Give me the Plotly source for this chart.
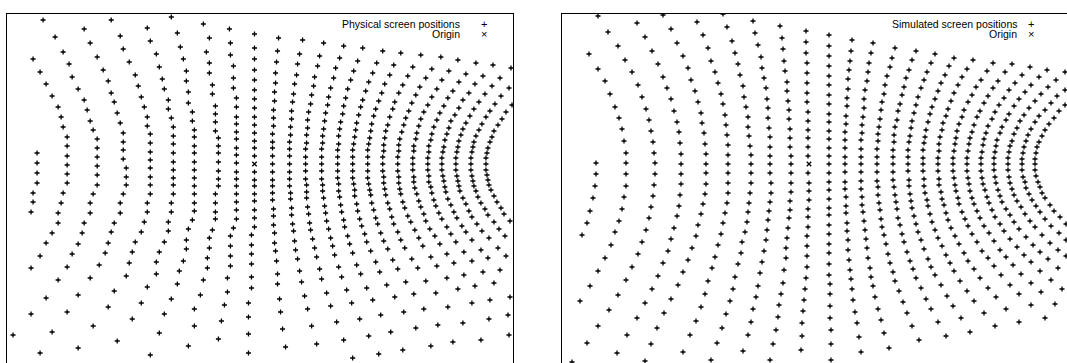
import plotly.graph_objects as go

# Screen point positions relative to the origin (x right, y up), one line per grid column,
# listed from the left-most column to the right-most, top to bottom.
phys_x = [
    -217, -217, -217, -217, -221, -221, -223,
    -221, -214, -208, -202, -196, -193, -191, -187, -187, -187, -187, -187, -187, -191, -193, -196, -196, -202, -208, -214, -223,
    -211, -199, -191, -185, -182, -176, -170, -167, -164, -161, -157, -157, -157, -157, -157, -157, -161, -164, -164, -170, -172, -176, -182, -187, -196, -208, -223, -241,
    -170, -164, -157, -151, -146, -143, -140, -137, -134, -131, -131, -131, -131, -128, -128, -128, -131, -134, -134, -140, -143, -146, -149, -155, -164, -176, -187, -202, -214,
    -143, -134, -131, -125, -119, -116, -113, -110, -107, -107, -104, -104, -104, -104, -104, -104, -104, -104, -107, -107, -110, -113, -119, -122, -125, -128, -140, -146, -161, -176,
    -107, -104, -98, -95, -92, -90, -86, -86, -83, -81, -81, -81, -81, -81, -81, -81, -81, -81, -83, -83, -86, -86, -90, -95, -98, -98, -107, -113, -122, -137,
    -83, -77, -74, -71, -68, -68, -66, -66, -62, -62, -60, -60, -60, -60, -60, -60, -60, -60, -60, -60, -60, -62, -66, -68, -68, -71, -75, -77, -83, -90, -95, -104,
    -51, -45, -48, -45, -45, -42, -42, -39, -39, -39, -39, -36, -36, -36, -36, -36, -36, -36, -39, -39, -39, -39, -42, -45, -45, -47, -47, -51, -54, -60, -60, -66,
    -25, -24, -24, -21, -21, -21, -18, -18, -18, -18, -18, -18, -18, -18, -18, -18, -18, -18, -18, -18, -18, -18, -21, -24, -24, -24, -24, -27, -27, -30, -33, -36,
    0, 0, 0, 0, 0, 0, 0, 0, 0, 0, 0, 0, 0, 0, 0, 0, 0, 0, 0, 0, 0, 0, -3, -3, -3, -3, -3, -3, -6, -6, -6, -6,
    24, 23, 22, 21, 21, 20, 20, 19, 19, 19, 18, 18, 18, 18, 18, 18, 18, 18, 18, 18, 19, 19, 19, 20, 20, 21, 22, 23, 23, 25, 26, 28, 31,
    48, 45, 43, 42, 40, 39, 38, 37, 37, 36, 36, 35, 35, 35, 35, 35, 35, 35, 36, 36, 37, 37, 38, 39, 40, 41, 43, 45, 47, 50, 53, 57, 62,
    69, 65, 63, 60, 59, 57, 56, 54, 53, 53, 52, 52, 51, 51, 51, 51, 51, 52, 52, 52, 53, 54, 55, 56, 58, 60, 62, 65, 67, 72, 76, 82, 89, 98,
    89, 85, 81, 79, 76, 74, 73, 71, 70, 69, 68, 68, 67, 67, 67, 67, 67, 68, 68, 69, 70, 71, 72, 74, 76, 78, 80, 84, 87, 92, 97, 105, 114, 124,
    108, 103, 99, 96, 93, 91, 89, 88, 86, 85, 84, 84, 83, 83, 83, 83, 83, 84, 84, 85, 86, 87, 89, 90, 93, 95, 98, 102, 106, 112, 118, 126, 136, 148,
    128, 122, 118, 114, 111, 108, 106, 104, 102, 101, 100, 99, 98, 98, 98, 98, 98, 99, 100, 100, 102, 103, 105, 107, 110, 112, 116, 121, 125, 132, 140, 149, 161, 176,
    146, 139, 135, 130, 127, 124, 121, 119, 117, 116, 115, 114, 113, 113, 113, 113, 113, 114, 115, 116, 117, 119, 121, 123, 126, 129, 133, 138, 143, 151, 159, 169, 183, 198,
    166, 158, 153, 148, 144, 140, 138, 135, 133, 131, 130, 129, 129, 128, 128, 128, 129, 129, 130, 131, 133, 135, 137, 139, 143, 146, 150, 157, 163, 171, 181, 193, 208, 226,
    186, 177, 171, 165, 161, 157, 154, 151, 149, 147, 145, 144, 144, 143, 143, 143, 144, 144, 145, 146, 148, 150, 153, 156, 160, 164, 168, 176, 182, 192, 203, 217, 234, 254,
    203, 194, 187, 182, 177, 173, 169, 166, 164, 162, 161, 159, 159, 158, 158, 158, 159, 159, 160, 162, 164, 166, 169, 171, 175, 180, 185, 192, 199, 209, 220, 235, 253,
    221, 211, 204, 198, 193, 189, 185, 182, 179, 177, 176, 174, 174, 173, 173, 173, 174, 174, 176, 177, 179, 181, 184, 187, 192, 196, 201, 209, 217, 228, 239, 255,
    238, 228, 220, 214, 208, 204, 200, 196, 194, 192, 190, 189, 188, 187, 187, 187, 188, 189, 190, 191, 193, 196, 199, 202, 207, 211, 217, 226, 233, 245,
    256, 245, 237, 230, 224, 219, 215, 211, 208, 206, 204, 203, 202, 201, 201, 201, 202, 203, 204, 205, 208, 211, 214, 217, 222, 227, 234, 243, 251,
    254, 246, 240, 235, 231, 227, 224, 221, 219, 218, 217, 216, 216, 216, 217, 218, 219, 221, 223, 226, 230, 233, 239, 244, 250,
    257, 251, 247, 243, 239, 237, 235, 233, 232, 231, 231, 231, 232, 233, 234, 236, 239, 242, 246, 249, 255,
]
phys_y = [
    11, 1, -9, -19, -29, -38, -48,
    105, 92, 80, 68, 57, 47, 37, 27, 18, 8, -1, -10, -19, -29, -39, -49, -59, -69, -79, -92, -104,
    144, 127, 112, 100, 87, 75, 64, 54, 43, 34, 25, 16, 7, -2, -11, -21, -30, -39, -49, -59, -69, -80, -90, -103, -116, -134, -150, -171,
    135, 121, 107, 94, 83, 71, 62, 51, 41, 31, 22, 14, 5, -4, -13, -21, -30, -39, -49, -59, -68, -79, -89, -101, -114, -131, -148, -168, -189,
    144, 128, 115, 102, 89, 78, 67, 57, 47, 38, 30, 21, 12, 4, -4, -13, -21, -30, -39, -48, -58, -68, -78, -88, -99, -112, -127, -143, -162, -184,
    136, 123, 110, 97, 85, 75, 64, 55, 46, 37, 28, 20, 11, 2, -6, -14, -21, -30, -39, -48, -58, -67, -78, -88, -98, -110, -123, -139, -155, -177,
    147, 131, 117, 105, 93, 83, 72, 61, 52, 43, 34, 27, 18, 11, 2, -6, -14, -22, -30, -39, -47, -56, -65, -76, -85, -97, -107, -120, -135, -150, -169, -191,
    140, 126, 112, 101, 91, 79, 70, 58, 50, 42, 33, 26, 18, 11, 2, -7, -15, -22, -30, -39, -48, -55, -66, -74, -84, -94, -104, -116, -131, -145, -162, -182,
    135, 121, 109, 98, 86, 76, 66, 57, 47, 40, 32, 25, 16, 9, 1, -8, -15, -22, -30, -38, -46, -55, -64, -72, -82, -92, -102, -114, -128, -141, -157, -175,
    130, 116, 105, 94, 84, 74, 65, 56, 47, 39, 31, 23, 16, 8, -8, -16, -22, -30, -37, -46, -54, -63, -71, -81, -90, -100, -113, -124, -139, -153, -170, -189,
    126, 113, 102, 91, 81, 72, 63, 54, 46, 38, 30, 22, 16, 8, 0, -8, -16, -22, -29, -36, -45, -52, -61, -69, -79, -87, -97, -110, -120, -135, -148, -165, -183,
    124, 110, 100, 89, 80, 70, 62, 53, 45, 37, 29, 22, 15, 8, 0, -8, -15, -22, -29, -35, -44, -51, -60, -67, -77, -86, -95, -107, -118, -132, -145, -162, -180,
    121, 108, 98, 87, 78, 69, 60, 52, 44, 36, 29, 21, 15, 7, 0, -7, -15, -21, -28, -34, -43, -50, -59, -66, -75, -84, -93, -105, -115, -129, -142, -158, -176, -194,
    118, 106, 96, 86, 76, 67, 59, 51, 43, 35, 28, 21, 15, 7, 0, -7, -15, -21, -27, -34, -42, -49, -57, -65, -74, -82, -91, -103, -113, -126, -139, -155, -172, -190,
    116, 103, 93, 84, 75, 66, 58, 50, 42, 35, 28, 20, 14, 7, 0, -7, -14, -20, -27, -33, -41, -48, -56, -63, -72, -80, -89, -101, -110, -124, -136, -151, -168, -186,
    113, 101, 91, 82, 73, 64, 57, 49, 41, 34, 27, 20, 14, 7, 0, -7, -14, -20, -26, -32, -40, -47, -55, -62, -70, -78, -87, -98, -108, -121, -133, -148, -164, -182,
    111, 99, 89, 80, 71, 63, 55, 48, 40, 33, 26, 20, 14, 7, 0, -7, -14, -20, -26, -31, -39, -46, -54, -60, -69, -77, -85, -96, -105, -118, -130, -145, -161, -178,
    109, 97, 88, 79, 71, 62, 55, 47, 39, 33, 26, 19, 13, 7, 0, -7, -13, -19, -25, -31, -39, -45, -53, -60, -68, -76, -84, -95, -104, -117, -129, -143, -159, -176,
    107, 95, 86, 77, 69, 61, 53, 46, 39, 32, 25, 19, 13, 7, 0, -7, -13, -19, -25, -30, -38, -44, -52, -58, -66, -74, -82, -93, -102, -114, -125, -139, -155, -171,
    104, 93, 84, 75, 67, 59, 52, 45, 38, 31, 25, 18, 13, 6, 0, -6, -13, -18, -24, -30, -37, -43, -50, -57, -65, -72, -80, -90, -99, -111, -122, -136, -151,
    101, 90, 82, 73, 66, 58, 51, 44, 37, 30, 24, 18, 12, 6, 0, -6, -12, -18, -23, -29, -36, -42, -49, -55, -63, -70, -78, -88, -97, -108, -119, -133,
    99, 88, 80, 71, 64, 56, 49, 43, 36, 30, 24, 17, 12, 6, 0, -6, -12, -17, -23, -28, -35, -41, -48, -54, -62, -68, -76, -86, -94, -106,
    96, 86, 78, 70, 62, 55, 48, 41, 35, 29, 23, 17, 12, 6, 0, -6, -12, -17, -22, -27, -34, -40, -47, -53, -60, -67, -74, -84, -92,
    76, 68, 60, 53, 47, 40, 34, 28, 22, 17, 12, 6, 0, -6, -12, -17, -22, -27, -33, -39, -45, -51, -58, -65, -72,
    59, 52, 45, 39, 33, 27, 22, 16, 11, 6, 0, -6, -11, -16, -21, -26, -32, -38, -44, -50, -57,
]

sim_x = [
    -213, -213, -214, -216, -219, -222, -227,
    -220, -211, -204, -199, -194, -190, -187, -185, -183, -183, -183, -183, -185, -187, -190, -194, -198, -204, -211, -219, -229,
    -211, -201, -191, -184, -177, -171, -167, -163, -160, -158, -156, -155, -154, -154, -155, -156, -158, -160, -163, -167, -171, -177, -183, -191, -200, -211, -222, -237,
    -172, -164, -157, -151, -146, -142, -138, -135, -132, -130, -129, -128, -128, -128, -128, -129, -130, -132, -135, -138, -141, -146, -151, -157, -164, -172, -182, -192,
    -146, -138, -132, -126, -121, -118, -114, -111, -108, -107, -105, -104, -103, -103, -103, -103, -104, -106, -108, -111, -113, -117, -121, -126, -131, -138, -145, -152, -158, -164,
    -112, -106, -101, -98, -94, -91, -88, -86, -84, -83, -82, -81, -81, -81, -81, -81, -81, -82, -84, -86, -88, -91, -94, -97, -101, -104, -108, -113, -119, -126,
    -86, -82, -77, -74, -71, -69, -66, -65, -63, -61, -61, -60, -59, -58, -58, -58, -58, -59, -60, -61, -62, -64, -67, -68, -71, -74, -76, -79, -83, -87, -92, -98,
    -56, -54, -51, -48, -47, -45, -43, -42, -41, -41, -40, -39, -39, -39, -39, -39, -38, -38, -39, -40, -41, -42, -43, -45, -47, -49, -51, -53, -56, -58, -61, -66,
    -29, -27, -26, -25, -24, -22, -22, -21, -20, -20, -19, -19, -19, -18, -18, -18, -18, -18, -19, -19, -20, -21, -22, -23, -23, -25, -26, -28, -30, -31, -33, -36, -39,
    -3, -3, -3, -2, -2, -2, -2, -2, -1, -1, -1, -1, -1, -1, -1, 0, 0, 0, -1, -1, -1, -2, -2, -2, -2, -3, -4, -5, -6, -7, -7, -8,
    20, 20, 20, 20, 20, 20, 20, 20, 20, 20, 20, 20, 20, 20, 20, 20, 20, 20, 20, 20, 20, 20, 20, 20, 20, 20, 20, 21, 21, 21, 21, 22, 22, 22,
    43, 42, 41, 40, 39, 39, 38, 38, 37, 37, 36, 36, 36, 36, 36, 36, 36, 36, 37, 37, 37, 38, 38, 39, 39, 40, 41, 42, 43, 44, 46, 48, 50, 52,
    64, 62, 60, 59, 58, 56, 55, 55, 54, 53, 53, 52, 52, 52, 52, 52, 52, 52, 53, 53, 54, 55, 56, 57, 58, 59, 61, 62, 64, 66, 69, 72, 75, 80,
    86, 83, 81, 78, 76, 75, 73, 72, 71, 70, 69, 69, 68, 68, 68, 68, 68, 69, 69, 70, 71, 72, 73, 75, 77, 79, 81, 84, 86, 90, 94, 98, 103, 110,
    107, 103, 100, 97, 95, 93, 91, 89, 88, 86, 85, 85, 84, 84, 84, 84, 84, 85, 86, 87, 88, 89, 91, 93, 95, 98, 101, 104, 107, 112, 117, 122, 129, 137,
    126, 122, 118, 115, 112, 109, 107, 105, 103, 102, 101, 100, 99, 99, 99, 99, 100, 100, 101, 102, 103, 105, 107, 109, 112, 115, 119, 122, 126, 132, 138, 144, 152, 161,
    145, 140, 136, 132, 129, 126, 123, 121, 119, 117, 116, 115, 114, 114, 114, 114, 115, 115, 116, 118, 119, 121, 123, 126, 129, 133, 137, 141, 145, 151, 158, 165, 175, 186,
    164, 158, 153, 149, 145, 142, 139, 137, 134, 133, 131, 130, 130, 129, 129, 129, 130, 130, 132, 133, 135, 137, 139, 142, 146, 150, 155, 159, 165, 171, 179, 187, 197, 210,
    184, 178, 172, 167, 163, 159, 155, 153, 150, 148, 147, 146, 145, 144, 144, 144, 145, 146, 147, 149, 150, 153, 156, 159, 163, 168, 173, 179, 185, 192, 201, 210, 222, 236,
    203, 196, 189, 184, 179, 175, 171, 168, 165, 163, 161, 160, 159, 158, 158, 158, 159, 160, 161, 163, 165, 168, 171, 175, 180, 185, 191, 197, 204, 212, 222, 232, 246,
    221, 213, 206, 200, 195, 190, 186, 183, 179, 177, 175, 174, 173, 172, 172, 172, 173, 174, 176, 178, 180, 183, 186, 191, 195, 201, 208, 215, 222, 231, 242, 253,
    238, 230, 222, 216, 210, 205, 200, 197, 193, 191, 188, 187, 186, 185, 185, 185, 186, 187, 189, 191, 193, 197, 201, 205, 210, 217, 224, 231, 239, 249,
    256, 247, 239, 232, 226, 220, 215, 211, 208, 205, 203, 201, 200, 199, 199, 199, 200, 201, 203, 205, 208, 212, 216, 221, 226, 233, 241, 249, 257,
    256, 248, 242, 236, 230, 226, 222, 219, 217, 215, 214, 213, 213, 213, 214, 216, 217, 220, 223, 227, 231, 236, 242, 250, 257,
    256, 250, 245, 240, 236, 233, 230, 228, 227, 226, 226, 226, 227, 229, 231, 233, 236, 241, 245, 251, 257,
]
sim_y = [
    1, -10, -22, -34, -47, -59, -71,
    110, 95, 83, 70, 57, 46, 35, 23, 11, 1, -10, -22, -33, -45, -57, -68, -81, -94, -107, -122, -137,
    148, 132, 118, 104, 92, 79, 67, 55, 44, 33, 22, 11, 1, -10, -21, -32, -43, -54, -66, -78, -90, -103, -116, -131, -146, -162, -179, -198,
    141, 127, 113, 100, 87, 76, 65, 53, 42, 32, 21, 10, 0, -10, -20, -31, -42, -52, -64, -75, -87, -99, -112, -125, -139, -154, -171, -189,
    149, 135, 121, 108, 96, 84, 73, 62, 51, 41, 31, 20, 10, 0, -9, -20, -30, -40, -50, -61, -72, -84, -96, -108, -121, -135, -149, -164, -180, -197,
    142, 129, 116, 103, 92, 81, 70, 60, 49, 39, 29, 19, 9, 0, -9, -19, -29, -39, -49, -59, -70, -81, -93, -104, -117, -130, -143, -157, -171, -188,
    150, 137, 123, 111, 100, 89, 78, 67, 57, 47, 37, 28, 18, 9, 0, -9, -19, -29, -39, -48, -58, -68, -78, -89, -100, -113, -125, -137, -150, -164, -179, -196,
    143, 131, 119, 107, 96, 86, 76, 65, 56, 46, 36, 27, 17, 8, 0, -9, -19, -29, -38, -47, -56, -66, -76, -87, -98, -109, -122, -133, -145, -158, -171, -187,
    138, 126, 115, 103, 93, 82, 73, 63, 54, 45, 35, 26, 17, 8, 0, -9, -19, -28, -37, -46, -54, -64, -74, -84, -94, -106, -119, -130, -141, -153, -166, -180, -196,
    133, 122, 111, 101, 91, 81, 71, 62, 52, 43, 34, 26, 17, 8, -9, -19, -27, -36, -45, -53, -63, -72, -82, -92, -103, -114, -125, -136, -147, -159, -172, -186,
    129, 118, 108, 98, 88, 79, 69, 60, 50, 42, 33, 25, 16, 8, 0, -9, -18, -26, -35, -44, -51, -61, -70, -80, -89, -100, -111, -120, -130, -142, -154, -166, -180, -196,
    124, 113, 103, 94, 85, 75, 66, 58, 48, 40, 32, 24, 16, 7, 0, -8, -18, -25, -33, -42, -49, -59, -67, -76, -86, -96, -106, -115, -125, -136, -148, -159, -173, -188,
    121, 111, 101, 92, 83, 74, 65, 56, 47, 39, 31, 24, 15, 7, 0, -8, -17, -25, -33, -41, -48, -57, -66, -75, -84, -94, -104, -113, -122, -133, -145, -156, -169, -184,
    116, 106, 97, 88, 79, 70, 62, 54, 45, 37, 30, 23, 15, 7, 0, -8, -17, -23, -31, -39, -46, -55, -63, -71, -80, -90, -99, -108, -117, -127, -138, -149, -162, -176,
    113, 104, 94, 86, 77, 69, 60, 53, 44, 37, 29, 22, 14, 7, 0, -8, -16, -23, -31, -38, -45, -54, -61, -70, -78, -88, -97, -105, -114, -124, -135, -145, -158, -172,
    110, 101, 92, 84, 76, 67, 59, 51, 43, 36, 28, 22, 14, 7, 0, -7, -16, -22, -30, -37, -44, -52, -60, -68, -76, -85, -95, -103, -111, -121, -132, -142, -154, -168,
    106, 98, 89, 81, 73, 65, 57, 50, 42, 34, 27, 21, 14, 6, 0, -7, -15, -22, -29, -36, -42, -50, -58, -66, -74, -82, -91, -99, -107, -117, -127, -137, -149, -162,
    104, 95, 87, 79, 71, 63, 55, 48, 41, 34, 27, 20, 13, 6, 0, -7, -15, -21, -28, -35, -41, -49, -56, -64, -72, -80, -89, -97, -105, -114, -124, -133, -145, -158,
    101, 93, 84, 77, 69, 62, 54, 47, 40, 33, 26, 20, 13, 6, 0, -7, -14, -21, -27, -34, -40, -48, -55, -62, -70, -78, -87, -94, -102, -111, -121, -130, -141, -154,
    100, 92, 83, 76, 68, 61, 53, 47, 39, 32, 26, 20, 13, 6, 0, -7, -14, -20, -27, -34, -40, -47, -54, -62, -69, -77, -86, -93, -101, -110, -119, -128, -140,
    97, 89, 81, 74, 66, 59, 52, 45, 38, 31, 25, 19, 12, 6, 0, -7, -14, -20, -26, -33, -39, -46, -53, -60, -67, -75, -83, -91, -98, -107, -116, -125,
    94, 87, 79, 72, 65, 58, 50, 44, 37, 31, 24, 18, 12, 6, 0, -6, -13, -19, -26, -32, -38, -45, -51, -58, -65, -73, -81, -88, -95, -104,
    92, 84, 77, 70, 63, 56, 49, 43, 36, 30, 23, 18, 12, 6, 0, -6, -13, -19, -25, -31, -37, -43, -50, -57, -63, -71, -79, -86, -92,
    74, 68, 61, 54, 48, 42, 35, 29, 23, 17, 11, 5, 0, -6, -13, -18, -24, -30, -36, -42, -48, -55, -62, -69, -76,
    59, 53, 46, 40, 34, 28, 22, 17, 11, 5, 0, -6, -12, -18, -23, -29, -34, -41, -47, -53, -60,
]

origin_x = [0]
origin_y = [0]

legend_phys = "Physical screen positions"
legend_sim = "Simulated screen positions"
legend_origin = "Origin"

X_RANGE = [-247, 258]
Y_RANGE = [-199, 150]

W, H = 1067, 363
FONT = "Liberation Sans, Arial, sans-serif"

plus = dict(symbol="cross-thin", size=3.6, color="black", line=dict(width=1.3, color="black"))
cross = dict(symbol="x-thin", size=4.5, color="black", line=dict(width=1.3, color="black"))

fig = go.Figure()
fig.add_trace(go.Scatter(x=phys_x, y=phys_y, mode="markers", marker=plus,
                         xaxis="x", yaxis="y", showlegend=False, hoverinfo="skip"))
fig.add_trace(go.Scatter(x=origin_x, y=origin_y, mode="markers", marker=cross,
                         xaxis="x", yaxis="y", showlegend=False, hoverinfo="skip"))
fig.add_trace(go.Scatter(x=sim_x, y=sim_y, mode="markers", marker=plus,
                         xaxis="x2", yaxis="y2", showlegend=False, hoverinfo="skip"))
fig.add_trace(go.Scatter(x=origin_x, y=origin_y, mode="markers", marker=cross,
                         xaxis="x2", yaxis="y2", showlegend=False, hoverinfo="skip"))

ax_common = dict(showgrid=False, zeroline=False, showticklabels=False, ticks="",
                 showline=True, linecolor="black", linewidth=1, fixedrange=True)
top = 1 - 14 / H

fig.update_layout(
    width=W, height=H,
    margin=dict(l=0, r=0, t=0, b=0),
    paper_bgcolor="white", plot_bgcolor="white",
    showlegend=False,
    xaxis=dict(domain=[7 / W, 513 / W], range=X_RANGE, side="top", mirror=False, anchor="y", **ax_common),
    yaxis=dict(domain=[0, top], range=Y_RANGE, mirror=True, anchor="x", **ax_common),
    xaxis2=dict(domain=[562 / W, 1], range=X_RANGE, side="top", mirror=False, anchor="y2", **ax_common),
    yaxis2=dict(domain=[0, top], range=Y_RANGE, mirror=False, anchor="x2", **ax_common),
)

# Legend block: right-aligned labels with the marker glyph to their right
def legend_rows(x_text, x_sym, label):
    rows = [(label, "+", 24), (legend_origin, "\u00d7", 34)]
    for text, sym, ypx in rows:
        fig.add_annotation(x=x_text / W, y=1 - ypx / H, xref="paper", yref="paper",
                           text=text, showarrow=False, xanchor="right", yanchor="middle",
                           font=dict(family=FONT, size=10.5, color="black"))
        fig.add_annotation(x=x_sym / W, y=1 - ypx / H, xref="paper", yref="paper",
                           text=sym, showarrow=False, xanchor="center", yanchor="middle",
                           font=dict(family=FONT, size=11, color="black"))

legend_rows(462, 484, legend_phys)
legend_rows(1019, 1031, legend_sim)

fig.write_html("out.html")
